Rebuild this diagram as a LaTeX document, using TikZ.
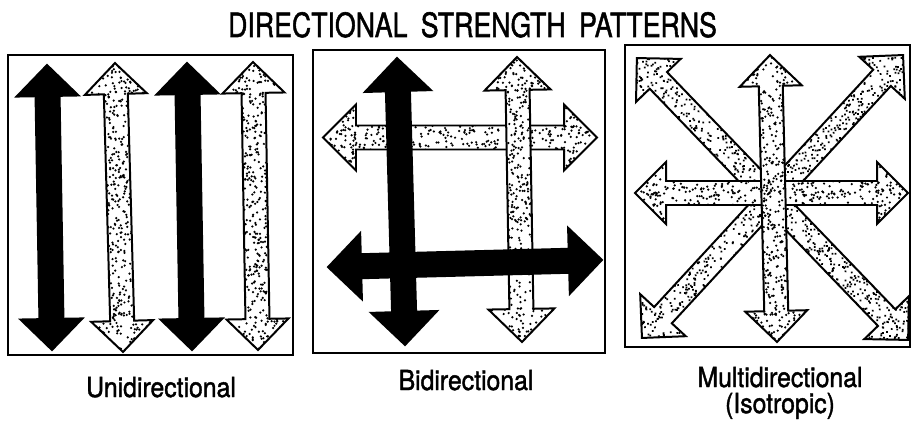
\documentclass[tikz,border=0pt]{standalone}
\usepackage{fontspec}
\setmainfont{TeX Gyre Heros}[FakeBold=1.6]
\newfontfamily\labelfont{TeX Gyre Heros}[FakeBold=1.6]
\usepackage{tikz}
\def\hd{31}
\def\sw{12}
\newcommand{\arrowpath}[1]{(-#1,0) -- (-#1+\hd,\hd) -- (-#1+\hd,\sw) -- (#1-\hd,\sw) -- (#1-\hd,\hd) -- (#1,0)
  -- (#1-\hd,-\hd) -- (#1-\hd,-\sw) -- (-#1+\hd,-\sw) -- (-#1+\hd,-\hd) -- cycle}
\newcommand{\solidarrow}[3]{\draw[arrline,fill=black,shift={#1},rotate=#2] \arrowpath{#3};}
\newcommand{\dotarrow}[3]{%
  \begin{scope}[shift={#1},rotate=#2]
    \fill[white] \arrowpath{#3};
    \begin{scope}
      \clip \arrowpath{#3};
      \pgfmathtruncatemacro{\ndots}{5.4*#3}
      \foreach \k in {1,...,\ndots}
        \fill ({rand*#3},{rand*\hd}) circle[radius=1.05pt];
    \end{scope}
    \draw[arrline] \arrowpath{#3};
  \end{scope}}

\begin{document}
\begin{tikzpicture}[x=0.03cm,y=-0.03cm,
  panel/.style={draw,line width=2pt},
  arrline/.style={draw,line width=1.7pt,line join=miter},
  lbl/.style={font=\labelfont\fontsize{23.5}{26}\selectfont,xscale=0.9,anchor=base,inner sep=0pt}]
  \useasboundingbox (0,0) rectangle (913,425);
  \pgfmathsetseed{4711}
  \node[font=\labelfont\fontsize{28.5}{32}\selectfont,xscale=0.8,anchor=base,inner sep=0pt] (title) at (472.5,37)
    {DIRECTIONAL\hspace{0.5em}STRENGTH\hspace{0.5em}PATTERNS};
  \draw[panel] (8,55) rectangle (293,355);
  \draw[panel] (313,50) rectangle (605,353);
  \draw[panel] (625,45) rectangle (910,347);
  % unidirectional
  \solidarrow{(49.5,207.5)}{91}{142.5}
  \dotarrow{(119,207.5)}{91.6}{144.5}
  \solidarrow{(189.5,206.5)}{91}{143.5}
  \dotarrow{(255.5,206)}{91}{144}
  % bidirectional
  \def\hd{33}
  \dotarrow{(460,137.5)}{0}{137}
  \dotarrow{(519.5,199.5)}{91}{142.5}
  \solidarrow{(401,201.5)}{91.6}{143.5}
  \solidarrow{(465,263.5)}{1.5}{137}
  % multidirectional
  \def\hd{31}
  \dotarrow{(772.5,199)}{-46.1}{195.6}
  \dotarrow{(772.5,196.5)}{47.3}{192.5}
  \dotarrow{(771.5,193)}{0}{136.5}
  \dotarrow{(773.5,198.5)}{91.4}{143.5}
  \node[lbl] (uni) at (161,397) {Unidirectional};
  \node[lbl] (bi) at (466,390) {Bidirectional};
  \node[lbl] (multi) at (780,387) {Multidirectional};
  \node[lbl] (iso) at (780,413) {(Isotropic)};
\end{tikzpicture}
\end{document}
